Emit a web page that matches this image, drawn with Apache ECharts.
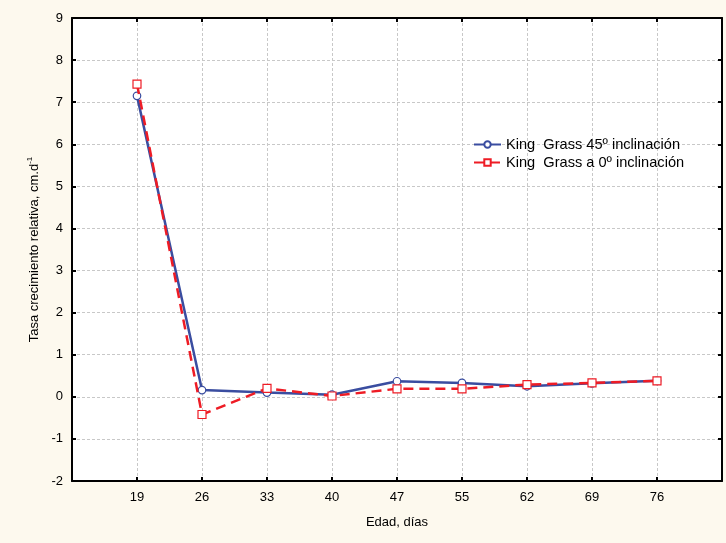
<!DOCTYPE html>
<html>
<head>
<meta charset="utf-8">
<script src="https://cdn.jsdelivr.net/npm/echarts@6/dist/echarts.min.js"></script>
<style>
html,body{margin:0;padding:0;background:#FDF9EE;}
#c{width:726px;height:543px;}
</style>
</head>
<body>
<div id="c"></div>
<script>
var ages = ['19','26','33','40','47','55','62','69','76'];
var incl45 = [7.15, 0.16, 0.10, 0.05, 0.37, 0.33, 0.25, 0.32, 0.38];
var incl0 = [7.43, -0.42, 0.20, 0.02, 0.19, 0.19, 0.29, 0.33, 0.38];
var yTicks = [-2,-1,0,1,2,3,4,5,6,7,8,9];

var categories = [''].concat(ages).concat(['']);
function pad(a){ return [null].concat(a).concat([null]); }

var FONT = 'Liberation Sans, Arial, sans-serif';
var chart = echarts.init(document.getElementById('c'));
var frameLine = {show:true, onZero:false, lineStyle:{color:'#000', width:2}};
var ticksIn = {show:true, inside:true, length:4, lineStyle:{color:'#000', width:2}};
var grid = {show:true, lineStyle:{color:'#C8C8C8', type:[3,2], width:1}};

chart.setOption({
  backgroundColor:'#FDF9EE',
  animation:false,
  textStyle:{fontFamily:FONT},
  grid:{left:72, right:4, top:18, bottom:62, show:true, backgroundColor:'#fff', borderWidth:0},
  legend:{
    orient:'vertical', left:473, top:137, padding:0, itemWidth:27, itemHeight:8, itemGap:3,
    textStyle:{fontFamily:FONT, fontSize:14.6, color:'#000'},
    data:['King  Grass 45º inclinación','King  Grass a 0º inclinación']
  },
  xAxis:[{
    type:'category', data:categories, boundaryGap:false, position:'bottom',
    axisLine:frameLine, axisTick:ticksIn, splitLine:grid,
    axisLabel:{color:'#000', fontSize:13, margin:10, fontFamily:FONT, interval:0},
    name:'Edad, días', nameLocation:'middle', nameGap:35,
    nameTextStyle:{color:'#000', fontSize:13, fontFamily:FONT}
  },{
    type:'category', data:categories, boundaryGap:false, position:'top',
    axisLine:frameLine, axisTick:ticksIn, axisLabel:{show:false}, splitLine:{show:false}
  }],
  yAxis:[{
    type:'value', min:yTicks[0], max:yTicks[yTicks.length-1], interval:1, position:'left',
    axisLine:frameLine, axisTick:ticksIn, splitLine:grid,
    axisLabel:{color:'#000', fontSize:13, margin:9, fontFamily:FONT},
    name:'Tasa crecimiento relativa, cm.d{sup|-1}', nameLocation:'middle', nameGap:30,
    nameTextStyle:{color:'#000', fontSize:13, fontFamily:FONT,
      rich:{sup:{fontSize:8, verticalAlign:'top', padding:[0,0,8,0], fontFamily:FONT, color:'#000'}}}
  },{
    type:'value', min:yTicks[0], max:yTicks[yTicks.length-1], interval:1, position:'right',
    axisLine:frameLine, axisTick:ticksIn, axisLabel:{show:false}, splitLine:{show:false}
  }],
  series:[{
    name:'King  Grass 45º inclinación', type:'line', data:pad(incl45),
    symbol:'circle', symbolSize:7.5, showAllSymbol:true,
    lineStyle:{color:'#3A4DA0', width:2.5},
    itemStyle:{color:'#fff', borderColor:'#3A4DA0', borderWidth:1.2},
    z:3
  },{
    name:'King  Grass a 0º inclinación', type:'line', data:pad(incl0),
    symbol:'rect', symbolSize:8, showAllSymbol:true,
    lineStyle:{color:'#EE1C25', width:2.5, type:[10,6]},
    itemStyle:{color:'#fff', borderColor:'#EE1C25', borderWidth:1.2},
    z:4
  }]
});
</script>
</body>
</html>
